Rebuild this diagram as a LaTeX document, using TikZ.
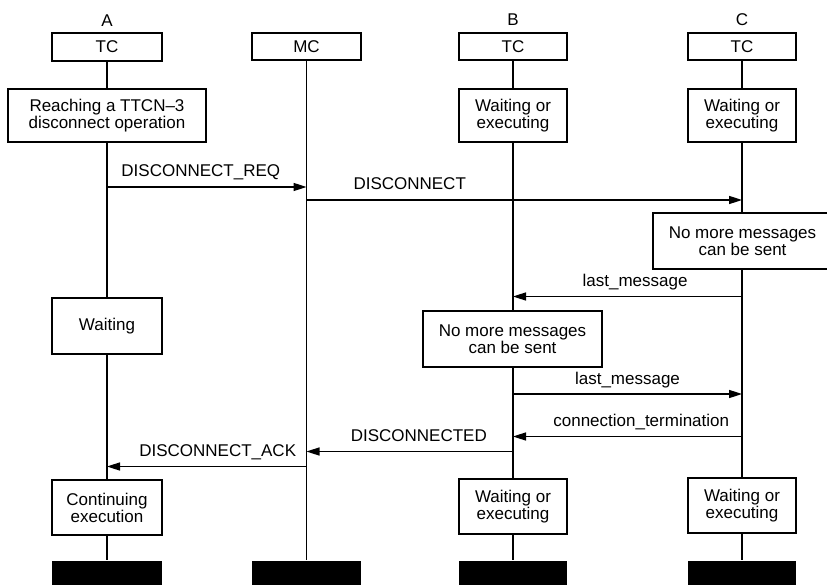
\documentclass[tikz,border=0pt]{standalone}
\usepackage{fontspec}
\setmainfont{Liberation Sans}
\usetikzlibrary{arrows.meta}
\tikzset{
  lane/.style={line width=1.7pt},
  box/.style={draw, line width=1.6pt, fill=white, align=center, inner sep=0pt,
    font=\fontsize{17}{17}\selectfont},
  hdr/.style={box, minimum width=108pt, minimum height=27pt},
  bar/.style={fill=black, draw=none, minimum width=109pt, minimum height=25pt, inner sep=0pt},
  lbl/.style={font=\fontsize{17}{17}\selectfont, inner sep=0pt},
  msg/.style={line width=1.6pt, -{Triangle[length=13pt,width=8pt]}},
  mtxt/.style={lbl, anchor=base, yshift=10pt}
}
\begin{document}
\begin{tikzpicture}[x=1pt,y=-1pt]
\useasboundingbox (0,0) rectangle (827,585);
% lane headers
\node[lbl] (labA) at (107,21) {A};
\node[lbl] (labB) at (513,20) {B};
\node[lbl] (labC) at (742,20) {C};
\node[hdr, minimum width=110pt, minimum height=28pt] (tcA) at (107,47) {TC};
\node[hdr, minimum width=109pt] (mc) at (306.5,46.5) {MC};
\node[hdr] (tcB) at (513,46.5) {TC};
\node[hdr] (tcC) at (742,46.5) {TC};
% bottom bars
\node[bar, minimum width=110pt] (endA) at (107,573) {};
\node[bar] (endM) at (306.5,573) {};
\node[bar, minimum width=108pt] (endB) at (513,573) {};
\node[bar, minimum width=108pt] (endC) at (742,573) {};
% lifelines
\draw[lane] (tcA.south) -- (endA.north);
\draw[lane] (mc.south) -- (endM.north);
\draw[lane] (tcB.south) -- (endB.north);
\draw[lane] (tcC.south) -- (endC.north);
% state boxes
\node[box, minimum width=198pt, minimum height=53pt] (reachA) at (107,115.5) {Reaching a TTCN--3\\disconnect operation};
\node[box, minimum width=108pt, minimum height=53pt] (waitB1) at (513,115.5) {Waiting or\\executing};
\node[box, minimum width=108pt, minimum height=53pt] (waitC1) at (742,115.5) {Waiting or\\executing};
\node[box, minimum width=179pt, minimum height=56pt] (nomoreC) at (742.5,241) {No more messages\\can be sent};
\node[box, minimum width=110pt, minimum height=56pt] (waitA) at (107,326) {Waiting};
\node[box, minimum width=179pt, minimum height=56pt] (nomoreB) at (512.5,339) {No more messages\\can be sent};
\node[box, minimum width=110pt, minimum height=55pt] (contA) at (107,507.5) {Continuing\\execution};
\node[box, minimum width=108pt, minimum height=55pt] (waitB2) at (513,506.5) {Waiting or\\executing};
\node[box, minimum width=108pt, minimum height=55pt] (waitC2) at (742,505.5) {Waiting or\\executing};
% messages
\draw[msg] (tcA.south |- 0,187) -- node[mtxt, pos=0.47] {DISCONNECT\_REQ} (mc.south |- 0,187);
\draw[msg] (mc.south |- 0,200) -- node[mtxt, pos=0.237] {DISCONNECT} (tcC.south |- 0,200);
\draw[msg] (tcC.south |- 0,296.5) -- node[mtxt, pos=0.467] {last\_message} (tcB.south |- 0,296.5);
\draw[msg] (tcB.south |- 0,394) -- node[mtxt, pos=0.5] {last\_message} (tcC.south |- 0,394);
\draw[msg] (tcC.south |- 0,436.5) -- node[mtxt, pos=0.44] {connection\_termination} (tcB.south |- 0,436.5);
\draw[msg] (tcB.south |- 0,451.5) -- node[mtxt, pos=0.456] {DISCONNECTED} (mc.south |- 0,451.5);
\draw[msg] (mc.south |- 0,466.5) -- node[mtxt, pos=0.445] {DISCONNECT\_ACK} (tcA.south |- 0,466.5);
\end{tikzpicture}
\end{document}
